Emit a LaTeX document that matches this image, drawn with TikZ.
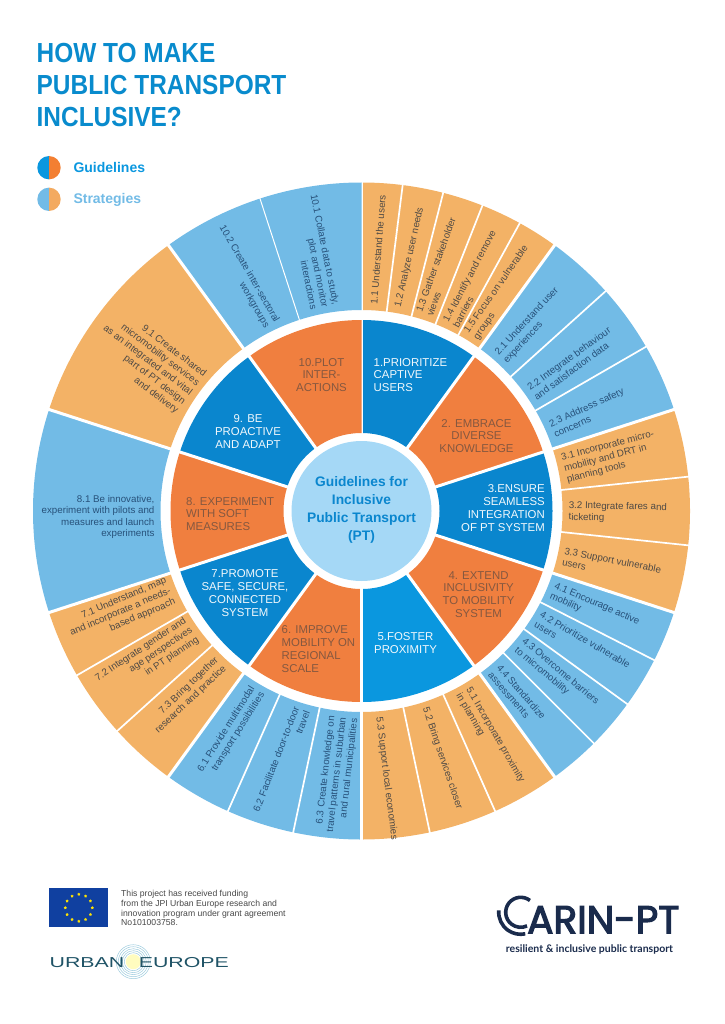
\documentclass[tikz,border=0pt]{standalone}
\usepackage{fontspec}
\setmainfont{Liberation Sans}
\newfontfamily\titlefont[FakeStretch=0.885]{Liberation Sans}
\newfontfamily\urbanfont[FakeStretch=1.48]{Liberation Sans}
\newfontfamily\carinfont[FakeBold=3]{Poppins}
\newfontfamily\tagfont{Lato}
\usetikzlibrary{shapes.geometric}

\definecolor{deepblue}{HTML}{0A86CE}
\definecolor{brightblue}{HTML}{0A97DF}
\definecolor{deeporange}{HTML}{F07F3F}
\definecolor{paleblue}{HTML}{72BBE6}
\definecolor{paleorange}{HTML}{F3B266}
\definecolor{hubblue}{HTML}{A5D8F6}
\definecolor{navy}{HTML}{1A2B4C}
\definecolor{onorange}{HTML}{85583F}
\definecolor{onpaleblue}{HTML}{27517A}
\definecolor{onpaleorange}{HTML}{4F4A45}
\definecolor{euflag}{HTML}{1040A0}
\definecolor{ringblue}{HTML}{9CCBDD}
\definecolor{urbanteal}{HTML}{1F5366}

\tikzset{
    gap/.style={white,line width=3pt},
    subgap/.style={white,line width=1.7pt},
    guide/.style={inner sep=0pt,font=\fontsize{11.4}{12.9}\selectfont},
    strategy/.style={inner sep=0pt,font=\fontsize{9.75}{11.5}\selectfont},
    stratright/.style={strategy,anchor=west,align=left},
    stratleft/.style={strategy,anchor=east,align=right},
}

\begin{document}
\begin{tikzpicture}[x=1pt,y=1pt]
    \useasboundingbox (0,0) rectangle (724,-1024);
    % The title
    \node (title) [anchor=north west,inner sep=0pt,align=left,text=brightblue!92!black,
        font=\titlefont\bfseries\fontsize{27.6}{32}\selectfont]
        at (36.5,-43.5) {HOW TO MAKE\\PUBLIC TRANSPORT\\INCLUSIVE?};
    % The legend
    \fill[brightblue] (49,-156) arc[start angle=90,end angle=270,radius=11.7] -- cycle;
    \fill[deeporange!80!orange] (49,-156) arc[start angle=90,end angle=-90,radius=11.7] -- cycle;
    \fill[paleblue] (49,-187.6) arc[start angle=90,end angle=270,radius=11.7] -- cycle;
    \fill[paleorange!85!deeporange] (49,-187.6) arc[start angle=90,end angle=-90,radius=11.7] -- cycle;
    \node (guidelines) [anchor=base west,inner sep=0pt,text=brightblue,font=\bfseries\fontsize{14}{16}\selectfont]
        at (73.3,-172.7) {Guidelines};
    \node (strategies) [anchor=base west,inner sep=0pt,text=paleblue,font=\bfseries\fontsize{14}{16}\selectfont]
        at (73.3,-204) {Strategies};

    \begin{scope}[shift={(361.5,-511)}]
        % The ten sectors, clockwise from the top
        \foreach \i/\wedgecol/\ringcol in {0/deepblue/paleorange,1/deeporange/paleblue,
            2/deepblue/paleorange,3/deeporange/paleblue,4/brightblue/paleorange,
            5/deeporange/paleblue,6/deepblue/paleorange,7/deeporange/paleblue,
            8/deepblue/paleorange,9/deeporange/paleblue}{
            \pgfmathsetmacro{\angA}{90-36*\i}
            \pgfmathsetmacro{\angB}{54-36*\i}
            \fill[\wedgecol] (\angA:78) arc[start angle=\angA,end angle=\angB,radius=78]
                -- (\angB:191) arc[start angle=\angB,end angle=\angA,radius=191] -- cycle;
            \fill[\ringcol] (\angA:201) arc[start angle=\angA,end angle=\angB,radius=201]
                -- (\angB:328.5) arc[start angle=\angB,end angle=\angA,radius=328.5] -- cycle;
            \draw[gap] (\angA:75) -- (\angA:194);
            \draw[gap] (\angA:198) -- (\angA:331);
        }
        % Dividers within the sectors
        \foreach \ang in {7.2,14.4,21.6,28.8,48,60,84,96,117,126,135,156,168,192,204,228,240}
        \draw[subgap] (90-\ang:198) -- (90-\ang:331);
        \draw[white,line width=1pt] (90-342:198) -- (90-342:331);
        % The hub
        \fill[hubblue] (0,0) circle (70);
        \node (hub) [inner sep=0pt,align=center,text=deepblue,font=\bfseries\fontsize{13.8}{18}\selectfont]
            at (0,1) {Guidelines for\\Inclusive\\Public Transport\\(PT)};
        % Guidelines
        \node (g1) [guide,align=left,anchor=west,text=white!90!paleblue] at (12,136) {1.PRIORITIZE\\CAPTIVE\\USERS};
        \node (g2) [guide,align=center,text=onorange] at (115,75) {2. EMBRACE\\DIVERSE\\KNOWLEDGE};
        \node (g3) [guide,align=right,anchor=east,text=white!90!paleblue] at (183.5,3) {3.ENSURE\\SEAMLESS\\INTEGRATION\\OF PT SYSTEM};
        \node (g4) [guide,align=center,text=onorange] at (117,-83.5) {4. EXTEND\\INCLUSIVITY\\TO MOBILITY\\SYSTEM};
        \node (g5) [guide,align=center,text=white!90!paleblue] at (44,-132) {5.FOSTER\\PROXIMITY};
        \node (g6) [guide,align=left,anchor=west,text=onorange] at (-80,-138) {6. IMPROVE\\MOBILITY ON\\REGIONAL\\SCALE};
        \node (g7) [guide,align=center,text=white!90!paleblue] at (-116.5,-82.3) {7.PROMOTE\\SAFE, SECURE,\\CONNECTED\\SYSTEM};
        \node (g8) [guide,align=left,anchor=west,text=onorange] at (-175.5,-3) {8. EXPERIMENT\\WITH SOFT\\MEASURES};
        \node (g9) [guide,align=center,text=white!90!paleblue] at (-113.5,79.7) {9. BE\\PROACTIVE\\AND ADAPT};
        \node (g10) [guide,align=center,text=onorange] at (-40,136) {10.PLOT\\INTER-\\ACTIONS};
        % Strategies, right half reads outwards
        \foreach \name/\ang/\rot/\col/\txt in {
            s11/3.4/85.5/onpaleorange/{1.1 Understand the users},
            s12/10.2/77.2/onpaleorange/{1.2 Analyze user needs},
            s13/17.6/70/onpaleorange/{1.3 Gather stakeholder\\views},
            s14/25.4/62/onpaleorange/{1.4 Identify and remove\\barriers},
            s15/32/55/onpaleorange/{1.5 Focus on vulnerable\\groups},
            s21/42.4/47.3/onpaleblue/{2.1 Understand user\\experiences},
            s22/55.2/36/onpaleblue/{2.2 Integrate behaviour\\and satisfaction data},
            s23/66.8/24.4/onpaleblue/{2.3 Address safety\\concerns},
            s31/78.3/14.5/onpaleorange/{3.1 Incorporate micro-\\mobility and DRT in\\planning tools},
            s32/90.2/-1/onpaleorange/{3.2 Integrate fares and\\ticketing},
            s33/102.7/-11/onpaleorange/{3.3 Support vulnerable\\users},
            s41/112.7/-23.5/onpaleblue/{4.1 Encourage active\\mobility},
            s42/121.4/-30.3/onpaleblue/{4.2 Prioritize vulnerable\\users},
            s43/130.3/-40/onpaleblue/{4.3 Overcome barriers\\to micromobility},
            s44/140/-49/onpaleblue/{4.4 Standardize\\assessments},
            s51/150.6/-59.8/onpaleorange/{5.1 Incorporate proximity\\in planning},
            s52/162.1/-71.2/onpaleorange/{5.2 Bring services closer},
            s53/175.2/-82.9/onpaleorange/{5.3 Support local economies}}
        \node (\name) [stratright,text=\col,rotate=\rot] at (90-\ang:207) {\txt};
        % Strategies, left half reads inwards
        \foreach \name/\ang/\rot/\col/\txt in {
            s61/210.1/58/onpaleblue/{6.1 Provide multimodal\\transport possibilities},
            s62/196.8/68.8/onpaleblue/{6.2 Facilitate door-to-door\\travel},
            s63/185/83.5/onpaleblue/{6.3 Create knowledge on\\travel patterns in suburban\\and rural municipalities},
            s71/247.3/23/onpaleorange/{7.1 Understand, map\\and incorporate a needs-\\based approach},
            s72/235.1/33.8/onpaleorange/{7.2 Integrate gender and\\age perspectives\\in PT planning},
            s73/222.7/43.5/onpaleorange/{7.3 Bring together\\research and practice},
            s81/268.3/0/onpaleblue/{8.1 Be innovative,\\experiment with pilots and\\measures and launch\\experiments},
            s91/304.6/-37.3/onpaleorange/{9.1 Create shared\\micromobility services\\as an integrated and vital\\part of PT design\\and delivery},
            s102/334.3/-60/onpaleblue/{10.2 Create inter-sectoral\\workgroups},
            s101/349.9/-78.5/onpaleblue/{10.1 Collate data to study,\\plot and monitor\\interactions}}
        \node (\name) [stratleft,text=\col,rotate=\rot] at (90-\ang:207) {\txt};
    \end{scope}

    % The flag
    \fill[euflag] (49.3,-888.3) rectangle (108.3,-927.3);
    \foreach \ang in {0,30,...,330}
    \node (star\ang) [star,star points=5,fill=yellow!85!orange,inner sep=0pt,minimum size=3.2pt]
        at ([shift={(\ang:13.5)}]78.8,-907.8) {};
    \node (funding) [anchor=north west,inner sep=0pt,align=left,text=black!72,
        font=\fontsize{8.65}{9.7}\selectfont] at (121,-890.3)
        {This project has received funding\\from the JPI Urban Europe research and\\innovation program under grant agreement\\No101003758.};
    % Urban Europe
    \fill[yellow!25!white] (133.3,-961.7) circle (7.5);
    \foreach \rad in {9,11,13,15,17}
    \draw[ringblue,line width=0.5pt] (133.3,-961.7) circle (\rad);
    \node (urban) [anchor=base west,inner sep=0pt,text=urbanteal,font=\urbanfont\fontsize{14.4}{16}\selectfont]
        at (49.5,-967.6) {URBAN};
    \node (europe) [anchor=base west,inner sep=0pt,text=urbanteal,font=\urbanfont\fontsize{14.4}{16}\selectfont]
        at (138.6,-967.6) {EUROPE};
    % Carin-pt
    \draw[navy,line width=3.6pt] (520.7,-912.3) ++(52:15) arc[start angle=52,end angle=295,radius=15];
    \draw[navy,line width=3.6pt] (520.7,-912.3) ++(175:22) arc[start angle=175,end angle=282,radius=22];
    \node (carin) [anchor=base west,inner sep=0pt,text=navy,font=\carinfont\fontsize{39}{40}\selectfont]
        at (527,-933.3) {ARIN-PT};
    \node (tagline) [inner sep=0pt,text=navy,font=\tagfont\bfseries\fontsize{10.5}{12}\selectfont]
        at (589.5,-949) {resilient \& inclusive public transport};
\end{tikzpicture}
\end{document}
